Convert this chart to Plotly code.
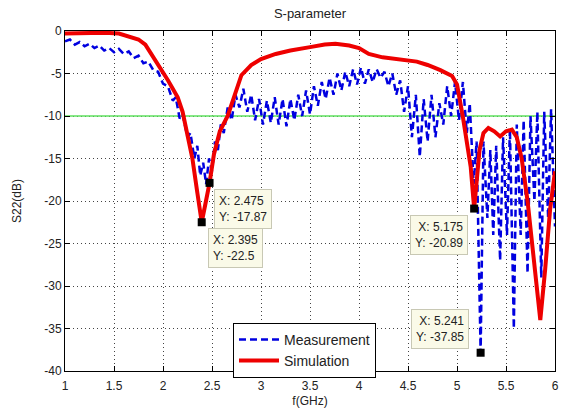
import plotly.graph_objects as go

# ---------------- data ----------------
meas_f = [1.00, 1.05, 1.10, 1.15, 1.20, 1.25, 1.30, 1.35, 1.40, 1.45, 1.50, 1.55, 1.60, 1.65,
          1.70, 1.75, 1.80, 1.85, 1.90, 1.95, 2.00, 2.05, 2.10, 2.13, 2.17, 2.20, 2.25, 2.28,
          2.32, 2.35, 2.38, 2.41, 2.44, 2.47, 2.50, 2.53, 2.56, 2.59, 2.62, 2.66, 2.70, 2.74,
          2.78, 2.82, 2.86, 2.90, 2.94, 2.98, 3.02, 3.06, 3.10, 3.14, 3.18, 3.22, 3.26, 3.30,
          3.34, 3.38, 3.42, 3.46, 3.50, 3.54, 3.58, 3.62, 3.66, 3.70, 3.74, 3.78, 3.82, 3.86,
          3.90, 3.94, 3.98, 4.02, 4.06, 4.10, 4.14, 4.18, 4.22, 4.26, 4.30, 4.34, 4.38, 4.42,
          4.46, 4.50, 4.54, 4.58, 4.62, 4.66, 4.70, 4.74, 4.78, 4.82, 4.86, 4.90, 4.94, 4.98,
          5.02, 5.06, 5.10, 5.13, 5.17, 5.20, 5.241, 5.27, 5.31, 5.34, 5.37, 5.40, 5.44, 5.47,
          5.51, 5.54, 5.58, 5.61, 5.65, 5.68, 5.72, 5.75, 5.79, 5.82, 5.86, 5.89, 5.93, 5.96, 6.00]
meas_db = [-1.2, -1.0, -1.6, -1.3, -1.8, -1.5, -2.0, -1.7, -2.3, -2.0, -2.5, -2.1, -2.7, -2.4,
           -3.2, -2.9, -3.8, -3.6, -4.6, -4.8, -6.2, -6.5, -8.2, -7.8, -10.3, -9.8, -12.5, -12.0,
           -15.0, -13.5, -17.0, -15.5, -18.0, -15.0, -16.5, -13.0, -14.0, -11.0, -12.0, -9.0, -10.5, -7.5,
           -9.0, -6.8, -9.5, -7.5, -10.5, -8.0, -11.0, -8.2, -10.8, -7.8, -11.0, -8.0, -11.2, -8.0,
           -10.5, -7.5, -10.0, -7.0, -9.8, -6.5, -8.8, -6.0, -8.0, -5.5, -7.5, -5.0, -7.0, -4.8,
           -6.5, -4.5, -6.3, -4.3, -6.2, -4.5, -6.0, -4.5, -5.5, -4.8, -6.5, -5.0, -7.5, -5.8,
           -9.5, -6.5, -12.5, -7.5, -14.8, -8.0, -13.0, -7.5, -12.5, -8.5, -11.0, -6.5, -10.0, -6.0,
           -10.5, -6.0, -12.0, -8.5, -18.0, -13.0, -37.85, -13.0, -22.0, -14.0, -24.0, -13.5, -27.0, -12.5,
           -24.0, -11.5, -35.0, -11.0, -24.0, -10.5, -28.5, -10.0, -20.0, -9.5, -29.0, -9.5, -22.0, -9.2, -23.0]

sim_f = [1.00, 1.20, 1.40, 1.55, 1.65, 1.75, 1.82, 1.88, 1.95, 2.00, 2.05, 2.10, 2.15, 2.20,
         2.25, 2.30, 2.35, 2.395, 2.43, 2.475, 2.52, 2.58, 2.66, 2.72, 2.80, 2.90, 3.00, 3.15,
         3.30, 3.50, 3.65, 3.76, 3.90, 4.00, 4.10, 4.24, 4.40, 4.59, 4.70, 4.83, 4.95, 5.00,
         5.06, 5.10, 5.14, 5.175, 5.20, 5.23, 5.27, 5.32, 5.38, 5.44, 5.50, 5.56, 5.61, 5.66,
         5.72, 5.78, 5.85, 5.90, 5.95, 6.00]
sim_db = [-0.3, -0.2, -0.2, -0.3, -0.6, -1.0, -1.6, -2.7, -3.8, -4.8, -5.8, -6.8, -7.8, -9.5,
          -12.0, -15.0, -19.0, -22.5, -20.5, -17.87, -14.5, -11.8, -10.0, -7.8, -5.2, -4.0, -3.3, -2.7,
          -2.3, -1.9, -1.6, -1.5, -1.7, -2.0, -2.7, -3.1, -3.3, -3.6, -4.0, -4.6, -5.3, -6.3,
          -10.1, -12.8, -16.0, -20.89, -17.5, -14.0, -12.0, -11.4, -11.8, -12.4, -11.8, -11.6, -12.5, -15.0,
          -20.0, -26.0, -34.0, -28.0, -21.0, -16.5]

ref_f = [1.0, 6.0]
ref_db = [-10.0, -10.0]

tip_f = [2.475, 2.395, 5.175, 5.241]
tip_db = [-17.87, -22.5, -20.89, -37.85]
tip_text = ["X: 2.475<br>Y: -17.87", "X: 2.395<br>Y: -22.5",
            "X: 5.175<br>Y: -20.89", "X: 5.241<br>Y: -37.85"]

x_ticks = [1, 1.5, 2, 2.5, 3, 3.5, 4, 4.5, 5, 5.5, 6]
x_ticklabels = ["1", "1.5", "2", "2.5", "3", "3.5", "4", "4.5", "5", "5.5", "6"]
y_ticks = [0, -5, -10, -15, -20, -25, -30, -35, -40]
y_ticklabels = ["0", "-5", "-10", "-15", "-20", "-25", "-30", "-35", "-40"]

# ---------------- figure ----------------
FONT = "Liberation Sans, Arial, sans-serif"
fig = go.Figure()

fig.add_trace(go.Scatter(x=ref_f, y=ref_db, mode="lines",
                         line=dict(color="#5ee05e", width=1.5), showlegend=False,
                         hoverinfo="skip"))
fig.add_trace(go.Scatter(x=meas_f, y=meas_db, mode="lines", name="Measurement",
                         line=dict(color="#0000e0", width=2.5, dash="7px,4px")))
fig.add_trace(go.Scatter(x=sim_f, y=sim_db, mode="lines", name="Simulation",
                         line=dict(color="#ee0000", width=4)))
fig.add_trace(go.Scatter(x=tip_f, y=tip_db, mode="markers", showlegend=False,
                         marker=dict(symbol="square", size=8, color="black")))

# data-tip boxes: (xanchor, yanchor, xshift, yshift, align)
tip_layout = [("left", "top", 4, -6, "left"),
              ("left", "top", 6, -6, "left"),
              ("right", "top", -6, -6, "right"),
              ("right", "bottom", -12, 4, "right")]
for f, d, t, (xa, ya, xs, ys, al) in zip(tip_f, tip_db, tip_text, tip_layout):
    fig.add_annotation(x=f, y=d, text=t, showarrow=False, xanchor=xa, yanchor=ya,
                       xshift=xs, yshift=ys, align=al,
                       bgcolor="#fafae8", bordercolor="#c8c8b4", borderwidth=1, borderpad=4,
                       font=dict(family=FONT, size=12, color="#222"))

axis_common = dict(showline=True, linecolor="black", linewidth=1, mirror="ticks",
                   ticks="inside", ticklen=5, tickcolor="black", automargin=False,
                   showgrid=True, gridcolor="#444", gridwidth=1, griddash="1px,3px",
                   zeroline=False, tickfont=dict(family=FONT, size=12, color="#222"))

fig.update_xaxes(range=[1, 6], tickvals=x_ticks, ticktext=x_ticklabels,
                 ticklabelstandoff=4,
                 title=dict(text="f(GHz)", standoff=8, font=dict(family=FONT, size=12, color="#222")),
                 **axis_common)
fig.update_yaxes(range=[-40, 0], tickvals=y_ticks, ticktext=y_ticklabels,
                 title=dict(text="S22(dB)", standoff=20, font=dict(family=FONT, size=12, color="#222")),
                 **axis_common)

fig.update_layout(
    width=569, height=408,
    margin=dict(l=65, r=14, t=31, b=37, autoexpand=False),
    paper_bgcolor="white", plot_bgcolor="white",
    title=dict(text="S-parameter", x=0.5 * (65 + 555) / 569, xanchor="center",
               y=1 - 13 / 408, yanchor="middle", yref="container",
               font=dict(family=FONT, size=13, color="#222")),
    legend=dict(x=(233 - 65) / 490, y=-0.02, xanchor="left", yanchor="bottom",
                bgcolor="white", bordercolor="black", borderwidth=1,
                font=dict(family=FONT, size=14, color="#222"),
                tracegroupgap=0, itemwidth=40),
    showlegend=True,
)

fig.write_html("out.html")
